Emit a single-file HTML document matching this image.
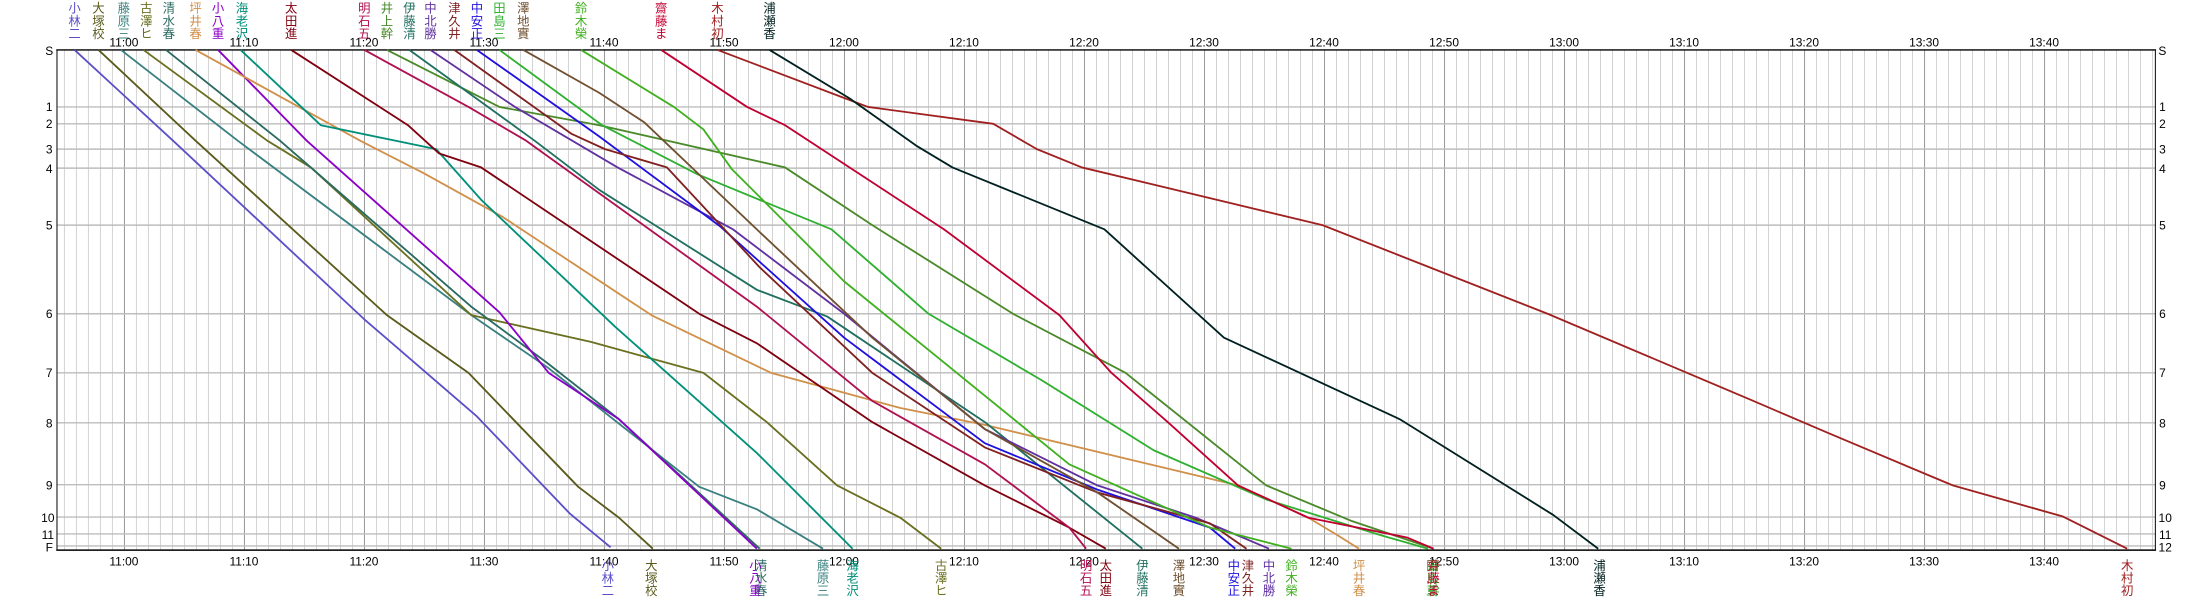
<!DOCTYPE html>
<html><head><meta charset="utf-8"><style>
html,body{margin:0;padding:0;background:#fff;}
svg{display:block;}
text{font-family:"Liberation Sans","Noto Sans CJK JP",sans-serif;}
.t{font-size:8.5px;fill:#000;text-anchor:middle;}
.s{font-size:8.5px;fill:#000;text-anchor:middle;}
.n{font-size:8.8px;text-anchor:middle;}
polyline{fill:none;stroke-width:1.3;stroke-linejoin:round;}
</style></head><body>
<svg width="2206" height="600" viewBox="0 0 1568 426.45" preserveAspectRatio="none" xmlns="http://www.w3.org/2000/svg">
<defs>
<pattern id="m1" patternUnits="userSpaceOnUse" x="88.1" y="0" width="8.53" height="500"><line x1="0.3" y1="0" x2="0.3" y2="500" stroke="#cfcfcf" stroke-width="0.7"/></pattern>
<pattern id="m10" patternUnits="userSpaceOnUse" x="88.1" y="0" width="85.3" height="500"><line x1="0.3" y1="0" x2="0.3" y2="500" stroke="#999" stroke-width="0.8"/></pattern>
</defs>
<rect x="40.5" y="35.5" width="1491.5" height="355.5" fill="url(#m1)"/>
<rect x="40.5" y="35.5" width="1491.5" height="355.5" fill="url(#m10)"/>
<g stroke="#bdbdbd" stroke-width="1">
<line x1="40.5" x2="1532" y1="76" y2="76"/><line x1="40.5" x2="1532" y1="88" y2="88"/>
<line x1="40.5" x2="1532" y1="106" y2="106"/><line x1="40.5" x2="1532" y1="119.5" y2="119.5"/>
<line x1="40.5" x2="1532" y1="160" y2="160"/><line x1="40.5" x2="1532" y1="223" y2="223"/>
<line x1="40.5" x2="1532" y1="265" y2="265"/><line x1="40.5" x2="1532" y1="300.5" y2="300.5"/>
<line x1="40.5" x2="1532" y1="344.5" y2="344.5"/><line x1="40.5" x2="1532" y1="367.5" y2="367.5"/>
<line x1="40.5" x2="1532" y1="379.5" y2="379.5"/><line x1="40.5" x2="1532" y1="388" y2="388"/>
</g>
<g stroke="#000" stroke-width="1">
<line x1="40" x2="1532.5" y1="35.5" y2="35.5"/><line x1="40" x2="1532.5" y1="391" y2="391"/>
<line x1="40.5" x2="40.5" y1="35.5" y2="391" stroke-width="0.7"/><line x1="1532" x2="1532" y1="35.5" y2="391" stroke-width="0.7"/>
</g>
<g>
<text class="t" x="88.1" y="33">11:00</text><text class="t" x="173.4" y="33">11:10</text><text class="t" x="258.7" y="33">11:20</text><text class="t" x="344" y="33">11:30</text><text class="t" x="429.3" y="33">11:40</text><text class="t" x="514.6" y="33">11:50</text><text class="t" x="599.9" y="33">12:00</text><text class="t" x="685.2" y="33">12:10</text><text class="t" x="770.5" y="33">12:20</text><text class="t" x="855.8" y="33">12:30</text><text class="t" x="941.1" y="33">12:40</text><text class="t" x="1026.4" y="33">12:50</text><text class="t" x="1111.7" y="33">13:00</text><text class="t" x="1197" y="33">13:10</text><text class="t" x="1282.3" y="33">13:20</text><text class="t" x="1367.6" y="33">13:30</text><text class="t" x="1452.9" y="33">13:40</text>
<text class="t" x="88.1" y="402">11:00</text><text class="t" x="173.4" y="402">11:10</text><text class="t" x="258.7" y="402">11:20</text><text class="t" x="344" y="402">11:30</text><text class="t" x="429.3" y="402">11:40</text><text class="t" x="514.6" y="402">11:50</text><text class="t" x="599.9" y="402">12:00</text><text class="t" x="685.2" y="402">12:10</text><text class="t" x="770.5" y="402">12:20</text><text class="t" x="855.8" y="402">12:30</text><text class="t" x="941.1" y="402">12:40</text><text class="t" x="1026.4" y="402">12:50</text><text class="t" x="1111.7" y="402">13:00</text><text class="t" x="1197" y="402">13:10</text><text class="t" x="1282.3" y="402">13:20</text><text class="t" x="1367.6" y="402">13:30</text><text class="t" x="1452.9" y="402">13:40</text>
</g>
<g>
<text class="s" x="35" y="39">S</text><text class="s" x="35" y="79">1</text><text class="s" x="35" y="91">2</text><text class="s" x="35" y="109">3</text><text class="s" x="35" y="123">4</text><text class="s" x="35" y="163">5</text><text class="s" x="35" y="226">6</text><text class="s" x="35" y="268">7</text><text class="s" x="35" y="304">8</text><text class="s" x="35" y="348">9</text><text class="s" x="34" y="371">10</text><text class="s" x="34" y="383">11</text><text class="s" x="35" y="392">F</text>
<text class="s" x="1537" y="39">S</text><text class="s" x="1537" y="79">1</text><text class="s" x="1537" y="91">2</text><text class="s" x="1537" y="109">3</text><text class="s" x="1537" y="123">4</text><text class="s" x="1537" y="163">5</text><text class="s" x="1537" y="226">6</text><text class="s" x="1537" y="268">7</text><text class="s" x="1537" y="304">8</text><text class="s" x="1537" y="348">9</text><text class="s" x="1539" y="371">10</text><text class="s" x="1539" y="383">11</text><text class="s" x="1539" y="392">12</text>
</g>
<polyline stroke="#5b4fc8" points="53,35.5 123,100 259,227 339,296 405,365 434,389"/>
<polyline stroke="#5a5a1c" points="70,35.5 139,100 275,224 333,265 411,346 440,368 464,390"/>
<polyline stroke="#3a8080" points="86,35.5 169,100 335,224 389,261 497,346 538,362 585,390"/>
<polyline stroke="#6a7020" points="102,35.5 190,100 221,119 335,224 420,243 500,265 545,300 595,345 640,368 669,390"/>
<polyline stroke="#2a6a60" points="118,35.5 199,100 335,218 389,258 440,298 540,390"/>
<polyline stroke="#8a00c8" points="155,35.5 218,100 355,222 390,265 440,298 538,390"/>
<polyline stroke="#d0904a" points="139,35.5 256,100 301,123 357,154 463,224 548,265 640,290 700,302 880,345 930,368 950,380 966,390"/>
<polyline stroke="#00907a" points="171,35.5 228,89 310,106 342,142 437,232 538,322 606,390"/>
<polyline stroke="#800010" points="207,35.5 290,89 312,109 342,119 497,223 538,244 620,300 700,345 760,375 786,390"/>
<polyline stroke="#b01050" points="259,35.5 333,76 374,100 538,218 620,285 700,330 760,375 772,390"/>
<polyline stroke="#4a8a2a" points="275,35.5 355,76 426,89 558,119 620,160 720,223 800,265 900,345 960,370 1019,390"/>
<polyline stroke="#207060" points="291,35.5 380,100 426,135 538,206 588,225 700,300 812,390"/>
<polyline stroke="#6030a0" points="306,35.5 366,76 439,119 521,163 600,223 700,305 780,345 850,368 902,390"/>
<polyline stroke="#2010e0" points="339,35.5 426,97 512,161 600,240 700,315 780,348 860,375 878,390"/>
<polyline stroke="#802020" points="323,35.5 406,95 430,106 474,119 540,190 620,265 700,318 780,350 860,372 886,390"/>
<polyline stroke="#30b030" points="355,35.5 428,89 496,124 591,163 660,223 740,270 820,320 900,355 980,380 1015,390"/>
<polyline stroke="#40b020" points="413,35.5 479,76 500,92 520,120 600,200 680,265 760,330 860,375 918,390"/>
<polyline stroke="#705030" points="372,35.5 426,66 458,87 540,165 620,240 700,305 780,350 838,390"/>
<polyline stroke="#c00030" points="470,35.5 531,76 558,89 671,163 753,224 790,265 830,300 880,345 930,368 1000,382 1019,390"/>
<polyline stroke="#a02020" points="510,35.5 601,70 617,76 706,88 737,106 769,119 940,160 1100,223 1244,284 1300,308 1388,345 1466,367 1512,390"/>
<polyline stroke="#002020" points="547,35.5 604,70 652,104 677,119 785,163 870,240 995,298 1104,366 1136,390"/>
<g>
<text class="n" fill="#5b4fc8"><tspan x="53" y="9">小</tspan><tspan x="53" y="18">林</tspan><tspan x="53" y="27">二</tspan></text>
<text class="n" fill="#5a5a1c"><tspan x="70" y="9">大</tspan><tspan x="70" y="18">塚</tspan><tspan x="70" y="27">校</tspan></text>
<text class="n" fill="#3a8080"><tspan x="88" y="9">藤</tspan><tspan x="88" y="18">原</tspan><tspan x="88" y="27">三</tspan></text>
<text class="n" fill="#6a7020"><tspan x="104" y="9">古</tspan><tspan x="104" y="18">澤</tspan><tspan x="104" y="27">ヒ</tspan></text>
<text class="n" fill="#2a6a60"><tspan x="120" y="9">清</tspan><tspan x="120" y="18">水</tspan><tspan x="120" y="27">春</tspan></text>
<text class="n" fill="#d0904a"><tspan x="139" y="9">坪</tspan><tspan x="139" y="18">井</tspan><tspan x="139" y="27">春</tspan></text>
<text class="n" fill="#8a00c8"><tspan x="155" y="9">小</tspan><tspan x="155" y="18">八</tspan><tspan x="155" y="27">重</tspan></text>
<text class="n" fill="#00907a"><tspan x="172" y="9">海</tspan><tspan x="172" y="18">老</tspan><tspan x="172" y="27">沢</tspan></text>
<text class="n" fill="#800010"><tspan x="207" y="9">太</tspan><tspan x="207" y="18">田</tspan><tspan x="207" y="27">進</tspan></text>
<text class="n" fill="#b01050"><tspan x="259" y="9">明</tspan><tspan x="259" y="18">石</tspan><tspan x="259" y="27">五</tspan></text>
<text class="n" fill="#4a8a2a"><tspan x="275" y="9">井</tspan><tspan x="275" y="18">上</tspan><tspan x="275" y="27">幹</tspan></text>
<text class="n" fill="#207060"><tspan x="291" y="9">伊</tspan><tspan x="291" y="18">藤</tspan><tspan x="291" y="27">清</tspan></text>
<text class="n" fill="#6030a0"><tspan x="306" y="9">中</tspan><tspan x="306" y="18">北</tspan><tspan x="306" y="27">勝</tspan></text>
<text class="n" fill="#802020"><tspan x="323" y="9">津</tspan><tspan x="323" y="18">久</tspan><tspan x="323" y="27">井</tspan></text>
<text class="n" fill="#2010e0"><tspan x="339" y="9">中</tspan><tspan x="339" y="18">安</tspan><tspan x="339" y="27">正</tspan></text>
<text class="n" fill="#30b030"><tspan x="355" y="9">田</tspan><tspan x="355" y="18">島</tspan><tspan x="355" y="27">三</tspan></text>
<text class="n" fill="#705030"><tspan x="372" y="9">澤</tspan><tspan x="372" y="18">地</tspan><tspan x="372" y="27">實</tspan></text>
<text class="n" fill="#40b020"><tspan x="413" y="9">鈴</tspan><tspan x="413" y="18">木</tspan><tspan x="413" y="27">榮</tspan></text>
<text class="n" fill="#c00030"><tspan x="470" y="9">齋</tspan><tspan x="470" y="18">藤</tspan><tspan x="470" y="27">ま</tspan></text>
<text class="n" fill="#a02020"><tspan x="510" y="9">木</tspan><tspan x="510" y="18">村</tspan><tspan x="510" y="27">初</tspan></text>
<text class="n" fill="#002020"><tspan x="547" y="9">浦</tspan><tspan x="547" y="18">瀬</tspan><tspan x="547" y="27">香</tspan></text>
</g>
<g>
<text class="n" fill="#5b4fc8"><tspan x="432" y="405">小</tspan><tspan x="432" y="414">林</tspan><tspan x="432" y="423">二</tspan></text>
<text class="n" fill="#5a5a1c"><tspan x="463" y="405">大</tspan><tspan x="463" y="414">塚</tspan><tspan x="463" y="423">校</tspan></text>
<text class="n" fill="#2a6a60"><tspan x="541" y="405">清</tspan><tspan x="541" y="414">水</tspan><tspan x="541" y="423">春</tspan></text>
<text class="n" fill="#8a00c8"><tspan x="537" y="405">小</tspan><tspan x="537" y="414">八</tspan><tspan x="537" y="423">重</tspan></text>
<text class="n" fill="#3a8080"><tspan x="585" y="405">藤</tspan><tspan x="585" y="414">原</tspan><tspan x="585" y="423">三</tspan></text>
<text class="n" fill="#00907a"><tspan x="606" y="405">海</tspan><tspan x="606" y="414">老</tspan><tspan x="606" y="423">沢</tspan></text>
<text class="n" fill="#6a7020"><tspan x="669" y="405">古</tspan><tspan x="669" y="414">澤</tspan><tspan x="669" y="423">ヒ</tspan></text>
<text class="n" fill="#b01050"><tspan x="772" y="405">明</tspan><tspan x="772" y="414">石</tspan><tspan x="772" y="423">五</tspan></text>
<text class="n" fill="#800010"><tspan x="786" y="405">太</tspan><tspan x="786" y="414">田</tspan><tspan x="786" y="423">進</tspan></text>
<text class="n" fill="#207060"><tspan x="812" y="405">伊</tspan><tspan x="812" y="414">藤</tspan><tspan x="812" y="423">清</tspan></text>
<text class="n" fill="#705030"><tspan x="838" y="405">澤</tspan><tspan x="838" y="414">地</tspan><tspan x="838" y="423">實</tspan></text>
<text class="n" fill="#2010e0"><tspan x="877" y="405">中</tspan><tspan x="877" y="414">安</tspan><tspan x="877" y="423">正</tspan></text>
<text class="n" fill="#802020"><tspan x="887" y="405">津</tspan><tspan x="887" y="414">久</tspan><tspan x="887" y="423">井</tspan></text>
<text class="n" fill="#6030a0"><tspan x="902" y="405">中</tspan><tspan x="902" y="414">北</tspan><tspan x="902" y="423">勝</tspan></text>
<text class="n" fill="#40b020"><tspan x="918" y="405">鈴</tspan><tspan x="918" y="414">木</tspan><tspan x="918" y="423">榮</tspan></text>
<text class="n" fill="#d0904a"><tspan x="966" y="405">坪</tspan><tspan x="966" y="414">井</tspan><tspan x="966" y="423">春</tspan></text>
<text class="n" fill="#4a8a2a"><tspan x="1019" y="405">井</tspan><tspan x="1019" y="414">上</tspan><tspan x="1019" y="423">幹</tspan></text>
<text class="n" fill="#30b030"><tspan x="1018" y="405">田</tspan><tspan x="1018" y="414">島</tspan><tspan x="1018" y="423">三</tspan></text>
<text class="n" fill="#c00030"><tspan x="1019" y="405">齋</tspan><tspan x="1019" y="414">藤</tspan><tspan x="1019" y="423">ま</tspan></text>
<text class="n" fill="#002020"><tspan x="1137" y="405">浦</tspan><tspan x="1137" y="414">瀬</tspan><tspan x="1137" y="423">香</tspan></text>
<text class="n" fill="#a02020"><tspan x="1512" y="405">木</tspan><tspan x="1512" y="414">村</tspan><tspan x="1512" y="423">初</tspan></text>
</g>
</svg>
</body></html>
